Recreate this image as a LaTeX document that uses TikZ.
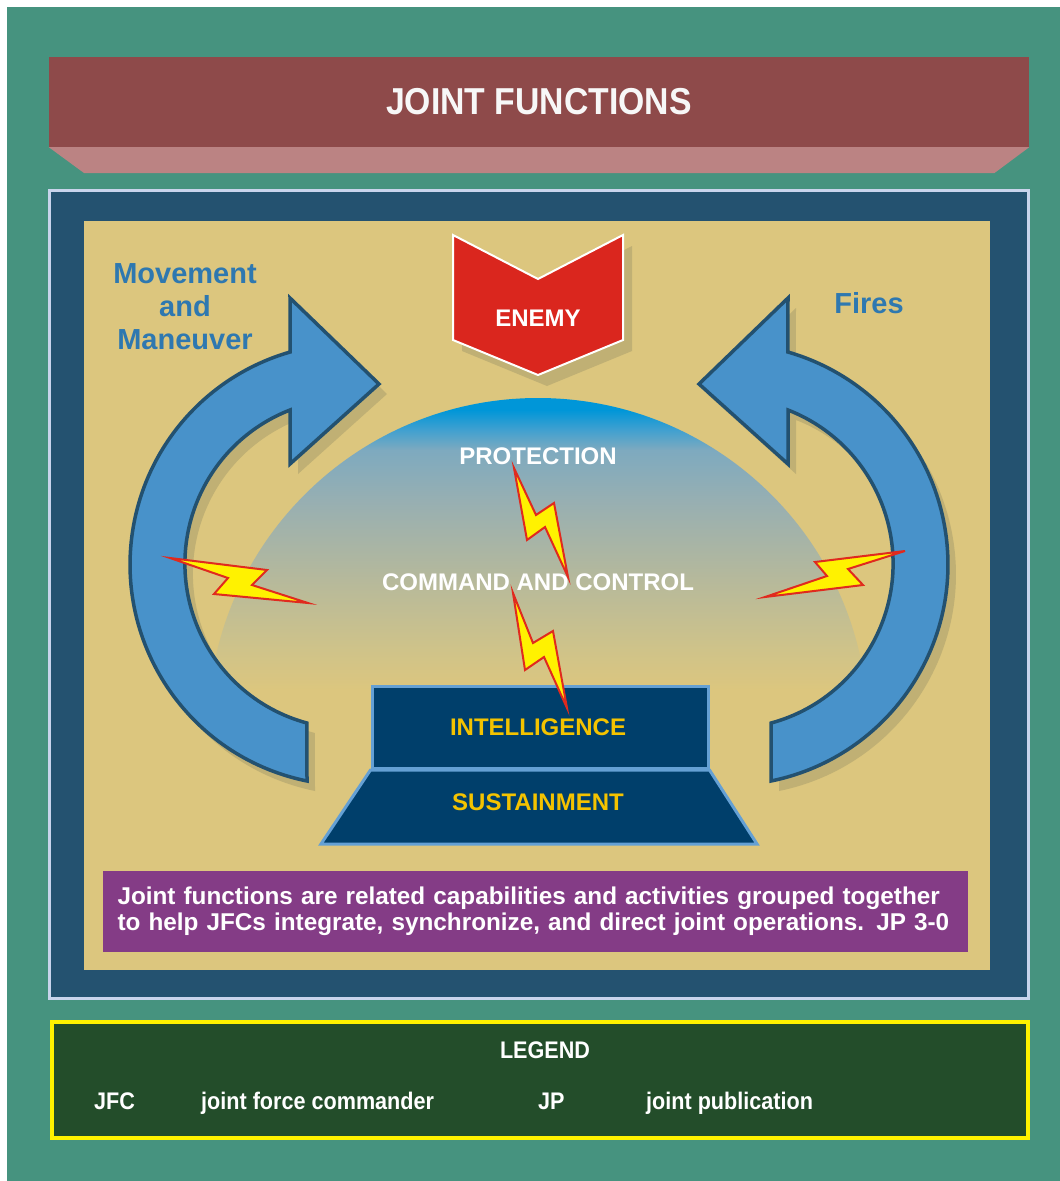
\documentclass[tikz,border=0pt]{standalone}
\usepackage{fontspec}
\setmainfont{Liberation Sans}
\newfontfamily\narrowsf[FakeStretch=0.9]{Liberation Sans}
\usetikzlibrary{positioning}

\definecolor{jfteal}{HTML}{46937F}
\definecolor{jfheader}{HTML}{8E4A4A}
\definecolor{jfbevel}{HTML}{BB8383}
\definecolor{jfframe}{HTML}{245270}
\definecolor{jfrim}{HTML}{C8D4EC}
\definecolor{jftan}{HTML}{DCC67E}
\definecolor{jfshadow}{HTML}{C0B074}
\definecolor{arrowblue}{HTML}{4892CA}
\definecolor{arrowrim}{HTML}{235170}
\definecolor{labelblue}{HTML}{2E78B0}
\definecolor{enemyred}{HTML}{DA261E}
\definecolor{basenavy}{HTML}{003F6B}
\definecolor{baserim}{HTML}{64A0D4}
\definecolor{basetext}{HTML}{F4C300}
\definecolor{notepurple}{HTML}{843C86}
\definecolor{legendgreen}{HTML}{234D2A}
\definecolor{boltyellow}{HTML}{FFF200}
\definecolor{boltred}{HTML}{E02A1E}
\definecolor{domeA}{HTML}{CFC389}
\definecolor{domeB}{HTML}{B6B99B}
\definecolor{domeC}{HTML}{97AFB2}
\definecolor{domeD}{HTML}{7EAABF}
\definecolor{domeE}{HTML}{40A0D0}
\definecolor{domeF}{HTML}{0096D8}

\pgfdeclareverticalshading{domefade}{100bp}{color(0bp)=(jftan); color(30.8bp)=(jftan);
  color(36.8bp)=(domeA); color(47.4bp)=(domeB); color(59.5bp)=(domeC);
  color(67.1bp)=(domeD); color(70.2bp)=(domeE); color(73.2bp)=(domeF); color(100bp)=(domeF)}

% outline of the curved arrow (left one, mirrored for the right one)
\newcommand{\swoosh}{(290,298) -- (379,384) -- (290,464) -- (290,410)
  arc[start angle=248.7, end angle=105.1, radius=165] -- (307,781)
  arc[start angle=101.5, end angle=254, radius=221] -- cycle}

\begin{document}
\begin{tikzpicture}[x=1pt, y=-1pt,
	headerbox/.style={fill=jfheader, minimum width=980pt, minimum height=90pt,
		text=white!94!gray, font=\narrowsf\bfseries\fontsize{37.5}{40}\selectfont},
	sidelabel/.style={text=labelblue, align=center, inner sep=0pt,
		font=\bfseries\fontsize{29}{33}\selectfont},
	domelabel/.style={text=white, inner sep=0pt, font=\bfseries\fontsize{24}{28}\selectfont},
	baselabel/.style={text=basetext, inner sep=0pt, font=\bfseries\fontsize{24}{28}\selectfont},
	swooshbody/.style={fill=arrowblue, draw=arrowrim, line width=3.5pt, line join=miter},
	bolt/.style={fill=boltyellow, draw=boltred, line width=2pt, line join=miter},
	legendtext/.style={text=white, inner sep=0pt, anchor=base west,
		font=\narrowsf\bfseries\fontsize{24}{28}\selectfont}]

	\useasboundingbox (0,0) rectangle (1060,1181);
	\fill[white] (0,0) rectangle (1060,1181);
	\fill[jfteal] (7,7) rectangle (1060,1181);

	% Header
	\node[headerbox] (header) at (539,102) {JOINT FUNCTIONS};
	\fill[jfbevel] (header.south west) -- (header.south east) -- ++(-35,26) -- (84,173) -- cycle;

	% Frame and panel
	\node[fill=jfframe, draw=jfrim, line width=3pt, minimum width=979pt, minimum height=808pt] (frame) at (539,594.5) {};
	\node[fill=jftan, minimum width=906pt, minimum height=749pt] (panel) at (537,595.5) {};

	% Dome
	\shade[shading=domefade] (208,728) arc[start angle=180, end angle=360, radius=330] -- cycle;

	% Enemy
	\fill[jfshadow, shift={(9,11)}] (453,235) -- (538,279) -- (623,235) -- (623,340) -- (538,375) -- (453,340) -- cycle;
	\filldraw[fill=enemyred, draw=white, line width=2pt] (453,235) -- (538,279) -- (623,235) -- (623,340) -- (538,375) -- (453,340) -- cycle;
	\node[domelabel] (enemy) at (538,318) {ENEMY};

	% Curved arrows
	\fill[jfshadow, shift={(8,10)}] \swoosh;
	\draw[swooshbody] \swoosh;
	\begin{scope}[shift={(1078,0)}, xscale=-1]
		\fill[jfshadow, shift={(-8,10)}] \swoosh;
		\draw[swooshbody] \swoosh;
	\end{scope}
	\node[sidelabel] (maneuver) at (185,307) {Movement\\and\\Maneuver};
	\node[sidelabel] (fires) at (869,303) {Fires};

	% Dome labels
	\node[domelabel] (protection) at (538,456) {PROTECTION};
	\node[domelabel] (c2) at (538,582) {COMMAND AND CONTROL};

	% Base
	\node[fill=basenavy, draw=baserim, line width=3pt, minimum width=336pt, minimum height=82pt] (intel) at (540,727.5) {};
	\filldraw[fill=basenavy, draw=baserim, line width=3pt] (intel.south west) -- (intel.south east) -- (757,844) -- (321,844) -- cycle;
	\node[baselabel] (intellabel) at (538,727) {INTELLIGENCE};
	\node[baselabel] (sustain) at (538,802) {SUSTAINMENT};

	% Lightning bolts
	\filldraw[bolt] (170,558) -- (267,570) -- (252,585) -- (308,603) -- (214,594) -- (228,578) -- cycle;
	\filldraw[bolt] (905,551) -- (815,562) -- (827,576) -- (765,597) -- (863,585) -- (848,569) -- cycle;
	\filldraw[bolt] (514,468) -- (536,515) -- (554,503) -- (568,577) -- (545,527) -- (527,540) -- cycle;
	\filldraw[bolt] (513,593) -- (533,643) -- (553,631) -- (567,708) -- (544,657) -- (525,670) -- cycle;

	% Note
	\node[fill=notepurple, minimum width=865pt, minimum height=81pt, text width=836pt, align=left,
		text=white, font=\bfseries\fontsize{24.3}{26}\selectfont] (note) at (535.5,911.5)
		{Joint functions are related capabilities and activities grouped together\\to help JFCs integrate, synchronize, and direct joint operations. JP 3-0};

	% Legend
	\node[fill=legendgreen, draw=yellow, line width=4pt, minimum width=976pt, minimum height=116pt] (legend) at (540,1080) {};
	\node[legendtext, anchor=base] (legendtitle) at (545,1058) {LEGEND};
	\node[legendtext] (jfc) at (94,1109) {JFC};
	\node[legendtext] (jfcdef) at (201,1109) {joint force commander};
	\node[legendtext] (jp) at (538,1109) {JP};
	\node[legendtext] (jpdef) at (646,1109) {joint publication};
\end{tikzpicture}
\end{document}
